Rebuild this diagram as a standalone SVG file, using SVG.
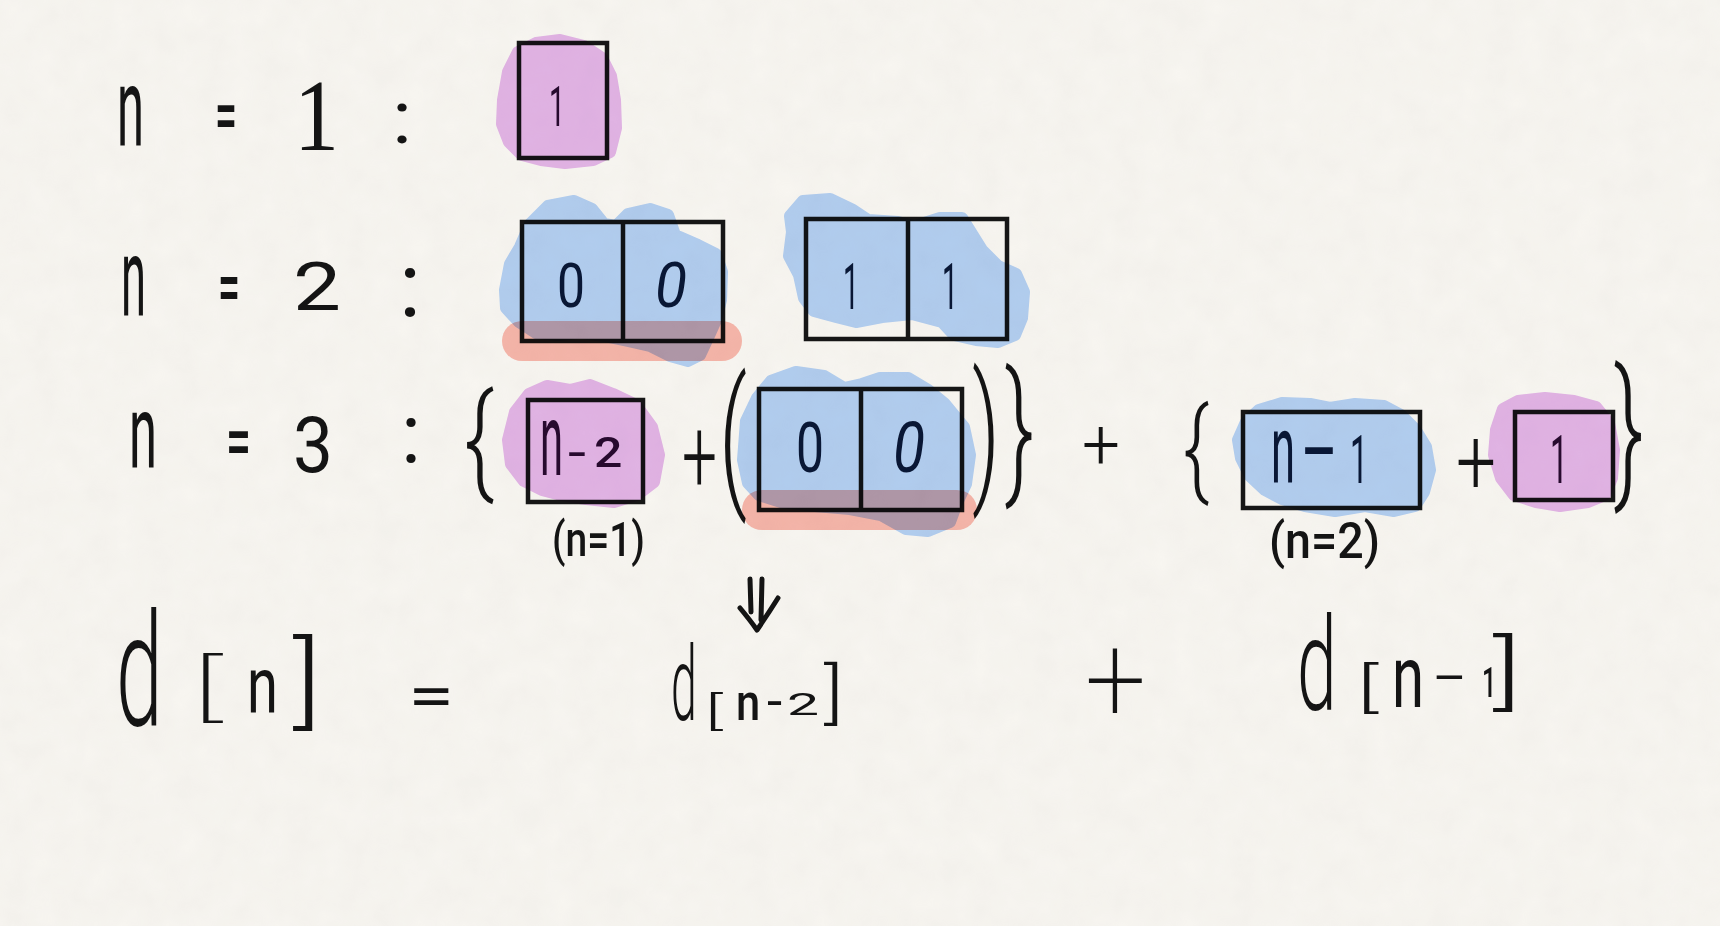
<svg xmlns="http://www.w3.org/2000/svg" width="1720" height="926" viewBox="0 0 1720 926">
<defs>
<filter id="paper" x="0" y="0" width="100%" height="100%">
<feTurbulence type="fractalNoise" baseFrequency="0.035" numOctaves="3" seed="4"/>
<feColorMatrix type="matrix" values="0 0 0 0 0.55  0 0 0 0 0.53  0 0 0 0 0.5  0 0 0 0.22 0"/>
</filter>
</defs>
<style>
.t{font-family:Roboto,"Liberation Sans","DejaVu Sans",sans-serif;fill:#141414;font-weight:400}
.w2{font-weight:200}
.w3{font-weight:300}
.w5{font-weight:500}
.in{fill:#0c1b35}
.inp{fill:#2a0d30}
.box{fill:none;stroke:#161616;stroke-width:4.5;stroke-linejoin:miter}
.pen{fill:none;stroke:#141414;stroke-width:5;stroke-linecap:round;stroke-linejoin:round}
.pink{fill:#e8baf2;stroke:#e8baf2;stroke-width:12;stroke-linejoin:round;mix-blend-mode:multiply}
.blue{fill:#b7d5fd;stroke:#b7d5fd;stroke-width:12;stroke-linejoin:round;mix-blend-mode:multiply}
.red{fill:#fcb5ab;mix-blend-mode:multiply;opacity:0.9}
</style>
<rect width="1720" height="926" fill="#f8f6f1"/>
<rect width="1720" height="926" filter="url(#paper)" opacity="0.5"/>

<g id="row1">
<text class="t" x="117" y="146" font-size="112" textLength="27" lengthAdjust="spacingAndGlyphs">n</text>
<text class="t w5" x="215" y="139" font-size="70" textLength="22" lengthAdjust="spacingAndGlyphs">=</text>
<text class="t" x="294" y="150" font-size="102" textLength="45" lengthAdjust="spacingAndGlyphs" style="font-family:'Liberation Serif',serif">1</text>
<text class="t" x="392" y="143" font-size="75" textLength="20" lengthAdjust="spacingAndGlyphs">:</text>
</g>

<g id="node-n1">
<rect class="box" x="519" y="43" width="88" height="115"/>
<text class="t inp" x="549" y="126" font-size="56" textLength="16" lengthAdjust="spacingAndGlyphs">1</text>
<path class="pink" d="M503 100 L508 72 L518 52 L536 43 L560 40 L584 46 L602 58 L611 76 L615 100 L616 128 L610 152 L593 160 L565 163 L541 160 L522 155 L509 142 L502 124 Z"/>
</g>

<g id="row2">
<text class="t" x="121" y="316" font-size="112" textLength="25" lengthAdjust="spacingAndGlyphs">n</text>
<text class="t w5" x="218" y="312" font-size="72" textLength="22" lengthAdjust="spacingAndGlyphs">=</text>
<text class="t" x="293" y="310" font-size="66" textLength="48" lengthAdjust="spacingAndGlyphs">2</text>
<text class="t" x="399" y="316" font-size="90" textLength="22" lengthAdjust="spacingAndGlyphs">:</text>
</g>

<g id="node-00-a">
<rect class="box" x="522" y="222" width="201" height="119"/>
<line class="box" x1="623" y1="222" x2="623" y2="341"/>
<text class="t in" x="557" y="307" font-size="62" textLength="28" lengthAdjust="spacingAndGlyphs">0</text>
<text class="t in" x="655" y="307" font-size="62" textLength="32" lengthAdjust="spacingAndGlyphs" font-style="italic">0</text>
<path class="blue" d="M505 290 L510 264 L520 247 L530 224 L548 206 L574 201 L592 209 L604 224 L616 226 L628 214 L650 209 L668 215 L675 235 L698 245 L716 254 L722 272 L721 300 L716 320 L707 340 L700 355 L688 361 L670 356 L650 346 L628 341 L604 336 L580 333 L558 335 L536 333 L519 322 L506 308 Z"/>
<rect class="red" x="502" y="321" width="240" height="40" rx="20"/>
</g>

<g id="node-11">
<rect class="box" x="806" y="219" width="201" height="120"/>
<line class="box" x1="908" y1="219" x2="908" y2="339"/>
<text class="t in" x="843" y="309" font-size="64" textLength="16" lengthAdjust="spacingAndGlyphs">1</text>
<text class="t in" x="942" y="309" font-size="64" textLength="16" lengthAdjust="spacingAndGlyphs">1</text>
<path class="blue" d="M792 232 L790 216 L803 201 L830 199 L853 210 L868 220 L898 222 L915 226 L940 218 L962 218 L972 234 L982 250 L998 266 L1016 274 L1024 292 L1022 318 L1015 335 L998 342 L976 340 L954 335 L942 322 L912 314 L882 317 L856 322 L836 317 L814 311 L804 298 L799 275 L789 256 Z"/>
</g>

<g id="row3">
<text class="t" x="129" y="468" font-size="104" textLength="28" lengthAdjust="spacingAndGlyphs">n</text>
<text class="t w5" x="226" y="465" font-size="70" textLength="25" lengthAdjust="spacingAndGlyphs">=</text>
<text class="t" x="293" y="472" font-size="77" textLength="40" lengthAdjust="spacingAndGlyphs">3</text>
<text class="t" x="401" y="463" font-size="83" textLength="20" lengthAdjust="spacingAndGlyphs">:</text>
<text class="t w3" x="464" y="480" font-size="120" textLength="30" lengthAdjust="spacingAndGlyphs">{</text>
<text class="t w3" transform="translate(682 492) scale(1 1.68)" font-size="62">+</text>
<text class="t w3" transform="translate(719 489) scale(1 1.73)" font-size="87.7">(</text>
<text class="t w3" transform="translate(972 484) scale(1 1.77)" font-size="86">)</text>
<text class="t w3" transform="translate(1005 480) scale(1 1.69)" font-size="89">}</text>
<text class="t w3" x="1082" y="469" font-size="70" textLength="38" lengthAdjust="spacingAndGlyphs">+</text>
<text class="t w3" x="1183" y="485" font-size="108" textLength="26" lengthAdjust="spacingAndGlyphs">{</text>
<text class="t w3" x="1456" y="494" font-size="92" textLength="40" lengthAdjust="spacingAndGlyphs">+</text>
<text class="t w3" x="1614" y="483" font-size="158" textLength="30" lengthAdjust="spacingAndGlyphs">}</text>
<text class="t w5" x="552" y="556" font-size="48" textLength="93" lengthAdjust="spacingAndGlyphs">(n=1)</text>
<text class="t w5" x="1269" y="558" font-size="50" textLength="111" lengthAdjust="spacingAndGlyphs">(n=2)</text>
</g>

<g id="node-n-2">
<rect class="box" x="528" y="400" width="115" height="102"/>
<text class="t inp" transform="translate(540 475) scale(1 2.45)" font-size="41.7">n</text>
<text class="t inp" transform="translate(568 469) scale(1 0.77)" font-size="65">-</text>
<text class="t inp w5" transform="translate(594 467) scale(1 0.84)" font-size="50">2</text>
<path class="pink" d="M508 440 L515 412 L529 394 L547 386 L570 390 L590 385 L613 394 L636 405 L652 427 L659 455 L654 482 L637 495 L614 502 L586 499 L561 495 L542 490 L524 481 L511 464 Z"/>
</g>

<g id="node-00-b">
<rect class="box" x="759" y="389" width="203" height="121"/>
<line class="box" x1="861" y1="389" x2="861" y2="510"/>
<text class="t in" x="796" y="472" font-size="70" textLength="28" lengthAdjust="spacingAndGlyphs">0</text>
<text class="t in" x="893" y="472" font-size="70" textLength="32" lengthAdjust="spacingAndGlyphs" font-style="italic">0</text>
<path class="blue" d="M743 460 L746 421 L757 398 L771 381 L796 372 L824 376 L844 388 L862 384 L880 378 L908 378 L928 390 L945 404 L964 427 L970 455 L966 484 L957 503 L950 522 L928 531 L906 529 L881 515 L850 509 L815 506 L781 502 L759 495 L748 483 Z"/>
<rect class="red" x="742" y="490" width="235" height="40" rx="20"/>
</g>

<g id="node-n-1">
<rect class="box" x="1243" y="412" width="177" height="96"/>
<text class="t in" transform="translate(1271 483) scale(1 2.2)" font-size="43.5">n</text>
<text class="t in" transform="translate(1303 478) scale(1 0.78)" font-size="116">-</text>
<text class="t in" transform="translate(1350 483) scale(1 2.1)" font-size="32">1</text>
<path class="blue" d="M1238 440 L1246 422 L1259 410 L1282 403 L1310 404 L1330 408 L1355 404 L1384 406 L1401 415 L1415 429 L1426 447 L1430 470 L1424 492 L1415 506 L1394 511 L1365 506 L1335 511 L1305 506 L1282 499 L1265 490 L1250 476 L1241 458 Z"/>
</g>

<g id="node-1-b">
<rect class="box" x="1515" y="412" width="98" height="88"/>
<text class="t inp" x="1550" y="483" font-size="67" textLength="18" lengthAdjust="spacingAndGlyphs">1</text>
<path class="pink" d="M1496 430 L1503 409 L1518 401 L1545 398 L1574 401 L1596 407 L1609 423 L1614 450 L1612 478 L1605 495 L1588 502 L1560 506 L1536 502 L1514 495 L1501 478 L1494 455 Z"/>
</g>

<g id="connectors">
<path class="pen" d="M750 579 L751 612 M762 579 L761 620 M740 608 Q750 620 757 630 Q768 614 778 598"/>
</g>

<g id="row4">
<text class="t w3" transform="translate(116 725) scale(1 1.88)" font-size="84">d</text>
<text class="t w2" transform="translate(192 712) scale(1 0.55)" font-size="133">[</text>
<text class="t" transform="translate(247 713) scale(1 1.43)" font-size="56">n</text>
<text class="t w3" transform="translate(293 716) scale(1 0.84)" font-size="118.5">]</text>
<text class="t" x="408" y="717" font-size="60" textLength="46" lengthAdjust="spacingAndGlyphs">=</text>

<text class="t w3" transform="translate(671 720) scale(1 2.22)" font-size="46.4">d</text>
<text class="t w3" transform="translate(705 725) scale(1 0.54)" font-size="74">[</text>
<text class="t w5" transform="translate(736 720) scale(1 1.2)" font-size="43.5">n</text>
<text class="t w5" transform="translate(766 716) scale(1 0.79)" font-size="50.7">-</text>
<text class="t" transform="translate(787 715) scale(1 0.56)" font-size="57">2</text>
<text class="t w3" transform="translate(824 716) scale(1 0.81)" font-size="81.5">]</text>

<text class="t w2" x="1085" y="722" font-size="125" textLength="61" lengthAdjust="spacingAndGlyphs">+</text>

<text class="t w3" transform="translate(1297 710) scale(1 1.82)" font-size="71.4">d</text>
<text class="t w3" transform="translate(1357 706) scale(1 0.6)" font-size="89">[</text>
<text class="t" transform="translate(1392 707) scale(1 1.5)" font-size="58">n</text>
<text class="t w3" transform="translate(1434 699) scale(1 0.64)" font-size="108.7">-</text>
<text class="t w5" transform="translate(1482 697) scale(1 1.68)" font-size="25">1</text>
<text class="t w3" transform="translate(1493 700) scale(1 0.69)" font-size="118.5">]</text>
</g>
</svg>
